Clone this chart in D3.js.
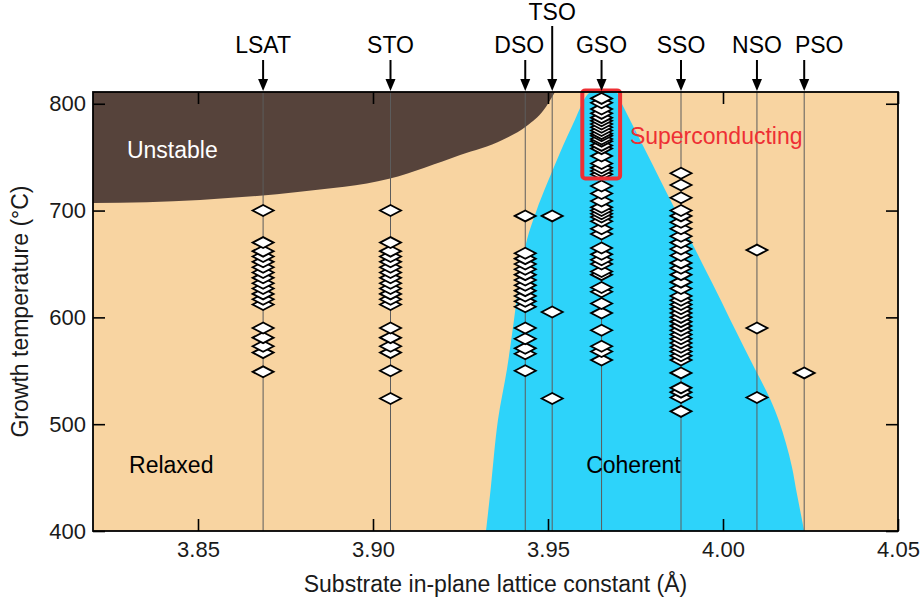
<!DOCTYPE html>
<html>
<head>
<meta charset="utf-8">
<script src="https://cdn.jsdelivr.net/npm/d3@7"></script>
<style>
  body { margin: 0; background: #fff; }
  svg { display: block; }
  text { font-family: "Liberation Sans", Arial, Helvetica, sans-serif; }
</style>
</head>
<body>
<svg id="chart" width="920" height="607"></svg>
<script>
// ---- data ----
const substrates = ["LSAT", "STO", "DSO", "TSO", "GSO", "SSO", "NSO", "PSO"];
const latticeConstants = [3.8686, 3.905, 3.9435, 3.9512, 3.9653, 3.988, 4.0097, 4.0232];

// growth temperatures (°C) of films grown on each substrate
const tempsLSAT = [700, 670, 662, 657, 652, 647, 642, 637, 632, 627, 622, 617, 612, 590, 581, 573, 567, 549];
const tempsSTO  = [700, 670, 662, 657, 652, 647, 642, 637, 632, 627, 622, 617, 612, 590, 581, 573, 567, 550, 524];
const tempsDSO  = [695, 660, 655, 650, 645, 640, 635, 630, 625, 620, 615, 610, 590, 580, 571, 566, 550];
const tempsTSO  = [695, 605, 524];
const tempsGSO  = [805, 801, 795, 791, 787, 784, 781, 778, 775, 772, 770, 767, 765, 761, 758, 751, 744, 740,
                   737, 734, 723, 716, 709, 703, 700, 697, 694, 690, 683, 678, 665, 659, 654, 650, 643, 640,
                   628, 624, 613, 604, 588, 573, 568, 560];
const tempsSSO  = [735, 724, 712, 700, 695, 689, 683, 676, 670, 664, 658, 651, 646, 640, 633, 627, 620, 616,
                   612, 608, 604, 600, 596, 592, 588, 584, 580, 576, 572, 568, 564, 560, 548, 534, 530, 525, 512];
const tempsNSO  = [663, 590, 525];
const tempsPSO  = [548];
const tempsBySubstrate = [tempsLSAT, tempsSTO, tempsDSO, tempsTSO, tempsGSO, tempsSSO, tempsNSO, tempsPSO];

// lower edge of the unstable region (lattice constant, temperature)
const unstableEdgeA = [3.820, 3.8506, 3.8791, 3.9046, 3.9249, 3.9371, 3.944, 3.9486, 3.952];
const unstableEdgeT = [707, 710, 717.6, 729.7, 752, 766.3, 779.4, 793.4, 811];

// boundary of the coherent-growth window
const coherentLeftA  = [3.9323, 3.9337, 3.9357, 3.9383, 3.9403, 3.942, 3.944, 3.9466, 3.9497, 3.9534, 3.9577, 3.9609, 3.9623];
const coherentLeftT  = [400, 442, 504, 552, 598, 640, 673, 699, 725, 754, 785, 807, 811];
const coherentRightA = [3.9694, 3.9711, 3.9782, 3.9854, 3.992, 3.9983, 4.0034, 4.0083, 4.0134, 4.016, 4.018, 4.0197, 4.0211, 4.0223, 4.0232];
const coherentRightT = [811, 800, 754, 707, 664, 623, 589, 557, 524, 503, 482, 460, 435, 415, 400];

// superconducting window (lattice constant range, temperature range)
const scWindowA = [3.9598, 3.9706];
const scWindowT = [730, 812.5];

const xTicks = [3.85, 3.90, 3.95, 4.00, 4.05];
const yTicks = [400, 500, 600, 700, 800];

// ---- layout ----
const svg = d3.select("#chart");
const plot = { left: 93, right: 898, top: 92, bottom: 531 };
const x = d3.scaleLinear().domain([3.82, 4.05]).range([plot.left, plot.right]);
const y = d3.scaleLinear().domain([400, 811]).range([plot.bottom, plot.top]);

const colors = {
  relaxed: "#F8D4A1",
  unstable: "#56433B",
  coherent: "#2DD3FA",
  red: "#EE2F34"
};

// horizontal nudges for the substrate names above the arrows
const nameOffset = { DSO: -6, PSO: 15 };

svg.append("defs").append("clipPath").attr("id", "plotClip")
  .append("rect")
  .attr("x", plot.left).attr("y", plot.top)
  .attr("width", plot.right - plot.left).attr("height", plot.bottom - plot.top);

const regions = svg.append("g").attr("clip-path", "url(#plotClip)");

// relaxed background
regions.append("rect")
  .attr("x", x(3.82)).attr("y", y(811))
  .attr("width", x(4.05) - x(3.82)).attr("height", y(400) - y(811))
  .attr("fill", colors.relaxed);

// coherent window
const coherentPts = coherentLeftA.map((a, i) => [a, coherentLeftT[i]])
  .concat(coherentRightA.map((a, i) => [a, coherentRightT[i]]));
regions.append("path")
  .datum(coherentPts)
  .attr("d", d3.line().x(d => x(d[0])).y(d => y(d[1])).curve(d3.curveCatmullRom.alpha(0.5)))
  .attr("fill", colors.coherent);

// unstable region
const unstablePts = unstableEdgeA.map((a, i) => [a, unstableEdgeT[i]]);
const unstableArea = d3.area()
  .x(d => x(d[0])).y0(y(815)).y1(d => y(d[1]))
  .curve(d3.curveMonotoneX);
regions.append("path")
  .datum(unstablePts)
  .attr("d", unstableArea)
  .attr("fill", colors.unstable);

// substrate guide lines
svg.append("g").selectAll("line")
  .data(latticeConstants)
  .join("line")
  .attr("x1", d => x(d)).attr("x2", d => x(d))
  .attr("y1", y(811)).attr("y2", y(400))
  .attr("stroke", "#5c5c5c").attr("stroke-width", 1);

// region labels
const labelFont = 23;
svg.append("text").text("Unstable")
  .attr("x", x(3.8297)).attr("y", y(749.4))
  .attr("fill", "#fff").attr("font-size", labelFont);
svg.append("text").text("Relaxed")
  .attr("x", x(3.8303)).attr("y", y(454.5))
  .attr("fill", "#000").attr("font-size", labelFont);
svg.append("text").text("Coherent")
  .attr("x", x(3.9609)).attr("y", y(454.5))
  .attr("fill", "#000").attr("font-size", labelFont);
svg.append("text").text("Superconducting")
  .attr("x", x(3.9734)).attr("y", y(762.5))
  .attr("fill", colors.red).attr("font-size", labelFont);

// growth points (diamonds)
const diamondPath = "M-10.5,0L0,-5.5L10.5,0L0,5.5Z";
const points = [];
tempsBySubstrate.forEach((temps, i) => {
  temps.slice().sort((a, b) => a - b).forEach(t => points.push({ a: latticeConstants[i], t }));
});
svg.append("g").selectAll("path")
  .data(points)
  .join("path")
  .attr("d", diamondPath)
  .attr("transform", d => `translate(${x(d.a)},${y(d.t)})`)
  .attr("fill", "#fff")
  .attr("stroke", "#000")
  .attr("stroke-width", 1.8)
  .attr("stroke-linejoin", "miter");

// superconducting window box
svg.append("rect")
  .attr("x", x(scWindowA[0])).attr("y", y(scWindowT[1]))
  .attr("width", x(scWindowA[1]) - x(scWindowA[0]))
  .attr("height", y(scWindowT[0]) - y(scWindowT[1]))
  .attr("rx", 3).attr("ry", 3)
  .attr("fill", "none")
  .attr("stroke", colors.red)
  .attr("stroke-width", 4);

// axes with inward ticks on all four sides
const tickFont = 22;
const axisBottom = d3.axisBottom(x).tickValues(xTicks).tickFormat(d3.format(".2f"))
  .tickSize(-12).tickPadding(10);
const axisTop = d3.axisTop(x).tickValues(xTicks).tickFormat("").tickSize(-12);
const axisLeft = d3.axisLeft(y).tickValues(yTicks).tickFormat(d3.format("d"))
  .tickSize(-12).tickPadding(7);
const axisRight = d3.axisRight(y).tickValues(yTicks).tickFormat("").tickSize(-12);

function styleAxis(g) {
  g.select(".domain").remove();
  g.selectAll(".tick line").attr("stroke", "#000").attr("stroke-width", 1.6);
  g.selectAll(".tick text").attr("font-size", tickFont).attr("fill", "#1a1a1a")
    .attr("font-family", '"Liberation Sans", Arial, sans-serif');
}
svg.append("g").attr("transform", `translate(0,${plot.bottom})`).call(axisBottom).call(styleAxis);
svg.append("g").attr("transform", `translate(0,${plot.top})`).call(axisTop).call(styleAxis);
svg.append("g").attr("transform", `translate(${plot.left},0)`).call(axisLeft).call(styleAxis);
svg.append("g").attr("transform", `translate(${plot.right},0)`).call(axisRight).call(styleAxis);

// frame
svg.append("rect")
  .attr("x", plot.left).attr("y", plot.top)
  .attr("width", plot.right - plot.left).attr("height", plot.bottom - plot.top)
  .attr("fill", "none").attr("stroke", "#000").attr("stroke-width", 1.8);

// axis titles
svg.append("text")
  .text("Substrate in-plane lattice constant (Å)")
  .attr("x", (plot.left + plot.right) / 2).attr("y", 592)
  .attr("text-anchor", "middle").attr("font-size", labelFont).attr("fill", "#1a1a1a");
svg.append("text")
  .text("Growth temperature (°C)")
  .attr("transform", `translate(28,${(plot.top + plot.bottom) / 2}) rotate(-90)`)
  .attr("text-anchor", "middle").attr("font-size", labelFont).attr("fill", "#1a1a1a");

// substrate markers above the plot
const markers = svg.append("g");
substrates.forEach((name, i) => {
  const cx = x(latticeConstants[i]);
  const raised = name === "TSO";
  const baseline = raised ? 20 : 53;
  const lineTop = raised ? 26 : 60;
  markers.append("text").text(name)
    .attr("x", cx + (nameOffset[name] || 0)).attr("y", baseline)
    .attr("text-anchor", "middle").attr("font-size", labelFont).attr("fill", "#000");
  markers.append("line")
    .attr("x1", cx).attr("x2", cx).attr("y1", lineTop).attr("y2", plot.top - 10)
    .attr("stroke", "#000").attr("stroke-width", 2);
  markers.append("path")
    .attr("d", `M${cx - 5},${plot.top - 13}L${cx + 5},${plot.top - 13}L${cx},${plot.top - 1}Z`)
    .attr("fill", "#000");
});
</script>
</body>
</html>
